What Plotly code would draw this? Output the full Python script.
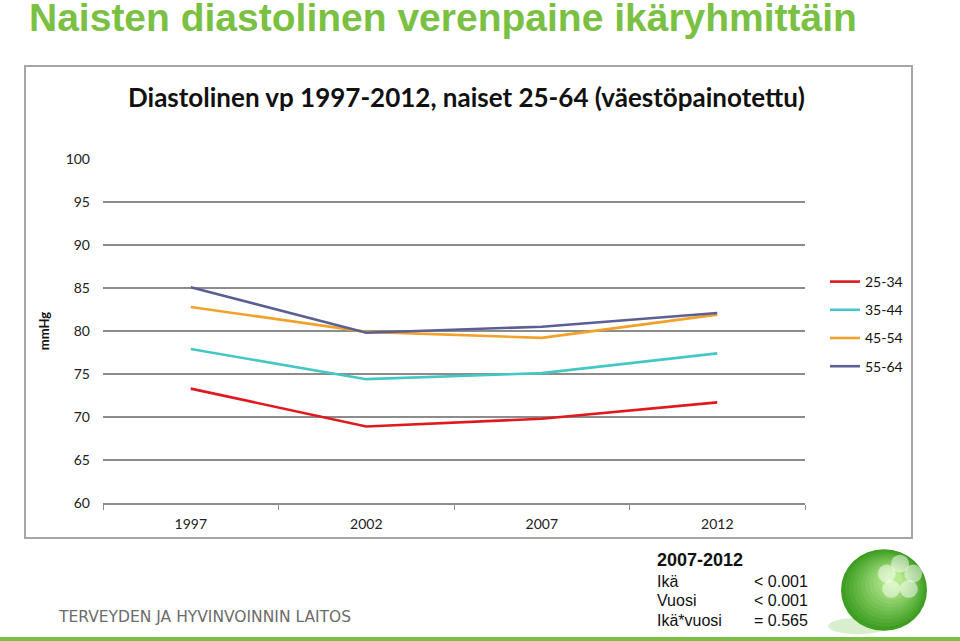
import plotly.graph_objects as go

years = ["1997", "2002", "2007", "2012"]
age_groups = ["25-34", "35-44", "45-54", "55-64"]
values = {
    "25-34": [73.3, 68.9, 69.8, 71.7],
    "35-44": [77.9, 74.4, 75.1, 77.4],
    "45-54": [82.8, 79.9, 79.2, 81.9],
    "55-64": [85.1, 79.8, 80.5, 82.1],
}
colors = ["#e0191e", "#45c7c5", "#f2a12a", "#5b5f94"]
y_ticks = [60, 65, 70, 75, 80, 85, 90, 95, 100]

main_title = "Naisten diastolinen verenpaine ikäryhmittäin"
chart_title = "Diastolinen vp 1997-2012, naiset 25-64 (väestöpainotettu)"
footer = "TERVEYDEN JA HYVINVOINNIN LAITOS"
stats_head = "2007-2012"
stats_rows = [("Ikä", "< 0.001"), ("Vuosi", "< 0.001"), ("Ikä*vuosi", "= 0.565")]

W, H = 960, 641
L, R, T, B = 103, 805, 159, 503  # plot area in pixels


def px_x(x):
    return (x - L) / (R - L)


def px_y(y):
    return (B - y) / (B - T)


fig = go.Figure()
for i, g in enumerate(age_groups):
    fig.add_trace(go.Scatter(
        x=years, y=values[g], name=g, mode="lines",
        line=dict(color=colors[i], width=2.6),
        legendgroup=g, showlegend=True, hoverinfo="skip"))

green = "#7ac143"
grid = "#8c8c8c"
tickfont = dict(family="Lato, sans-serif", size=14, color="#222222")

fig.update_layout(
    width=W, height=H,
    margin=dict(l=L, r=W - R, t=T, b=H - B),
    paper_bgcolor="white", plot_bgcolor="rgba(0,0,0,0)",
    xaxis=dict(type="category", range=[-0.5, 3.5], showgrid=False,
               showline=True, linecolor=grid, linewidth=1.5,
               ticks="outside", tickson="boundaries", ticklen=5, tickcolor=grid,
               ticklabelstandoff=7, tickfont=tickfont, zeroline=False),
    yaxis=dict(range=[60, 100], tickvals=y_ticks, showgrid=True,
               gridcolor=grid, gridwidth=2.2, zeroline=False, showline=False,
               ticks="", ticklabelstandoff=12, tickfont=tickfont,
               title=dict(text="<b>mmHg</b>", font=dict(family="Lato, sans-serif", size=13, color="#111"),
                          standoff=13)),
    legend=dict(xref="container", yref="container", x=825 / W, y=1 - 266 / H,
                xanchor="left", yanchor="top", tracegroupgap=7,
                font=dict(family="Lato, sans-serif", size=14, color="#111"),
                bgcolor="rgba(0,0,0,0)"),
    showlegend=True,
)

# chart box border
fig.add_shape(type="rect", xref="paper", yref="paper",
              x0=px_x(25), x1=px_x(912), y0=px_y(538), y1=px_y(66),
              line=dict(color="#a6a6a6", width=2), fillcolor="rgba(0,0,0,0)", layer="below")
# bottom green line
fig.add_shape(type="line", xref="paper", yref="paper",
              x0=px_x(0), x1=px_x(960), y0=px_y(639), y1=px_y(639),
              line=dict(color=green, width=4))

# logo: shadow, sphere with layered gradient, flower petals
fig.add_shape(type="circle", xref="paper", yref="paper",
              x0=px_x(828), x1=px_x(888), y0=px_y(634), y1=px_y(618),
              line=dict(width=0), fillcolor="rgba(130,200,90,0.3)")
steps = 12
for k in range(steps):
    t = k / (steps - 1)
    cx = 884 + 10 * t
    cy = 590 - 10 * t
    r = 43 * (1 - 0.8 * t)
    g0 = (62, 158, 34)
    g1 = (185, 235, 145)
    col = "rgb(%d,%d,%d)" % tuple(int(a + (b - a) * t) for a, b in zip(g0, g1))
    fig.add_shape(type="circle", xref="paper", yref="paper",
                  x0=px_x(cx - r), x1=px_x(cx + r), y0=px_y(cy + r * 0.95), y1=px_y(cy - r * 0.95),
                  line=dict(width=0), fillcolor=col)
for dx, dy in [(0, -13), (12, -4), (8, 10), (-8, 10), (-12, -4)]:
    cx, cy = 900 + dx * 1.1, 578 + dy * 1.1
    fig.add_shape(type="circle", xref="paper", yref="paper",
                  x0=px_x(cx - 9), x1=px_x(cx + 9), y0=px_y(cy + 9), y1=px_y(cy - 9),
                  line=dict(width=0), fillcolor="rgba(255,255,255,0.5)")

fig.add_annotation(text="<b>" + main_title + "</b>", xref="paper", yref="paper",
                   x=px_x(27), y=px_y(18), xanchor="left", yanchor="middle", showarrow=False,
                   font=dict(family="Liberation Sans, Arial, sans-serif", size=39, color=green))
fig.add_annotation(text="<b>" + chart_title + "</b>", xref="paper", yref="paper",
                   x=px_x(466), y=px_y(97), xanchor="center", yanchor="middle", showarrow=False,
                   font=dict(family="Lato, sans-serif", size=26, color="#111"))
fig.add_annotation(text=footer, xref="paper", yref="paper",
                   x=px_x(56), y=px_y(617), xanchor="left", yanchor="middle", showarrow=False,
                   font=dict(family="DejaVu Sans, sans-serif", size=15.5, color="#6b6b6b"))
fig.add_annotation(text="<b>" + stats_head + "</b>", xref="paper", yref="paper",
                   x=px_x(655), y=px_y(560), xanchor="left", yanchor="middle", showarrow=False,
                   font=dict(family="Liberation Sans, Arial, sans-serif", size=18, color="#111"))
for i, (k, v) in enumerate(stats_rows):
    yy = 581 + i * 19.5
    fig.add_annotation(text=k, xref="paper", yref="paper", x=px_x(655), y=px_y(yy),
                       xanchor="left", yanchor="middle", showarrow=False,
                       font=dict(family="Liberation Sans, Arial, sans-serif", size=16, color="#111"))
    fig.add_annotation(text=v, xref="paper", yref="paper", x=px_x(752), y=px_y(yy),
                       xanchor="left", yanchor="middle", showarrow=False,
                       font=dict(family="Liberation Sans, Arial, sans-serif", size=16, color="#111"))

fig.write_html("out.html", config={"displayModeBar": False},
               post_script="document.body.style.margin='0';document.body.style.overflow='hidden';")
